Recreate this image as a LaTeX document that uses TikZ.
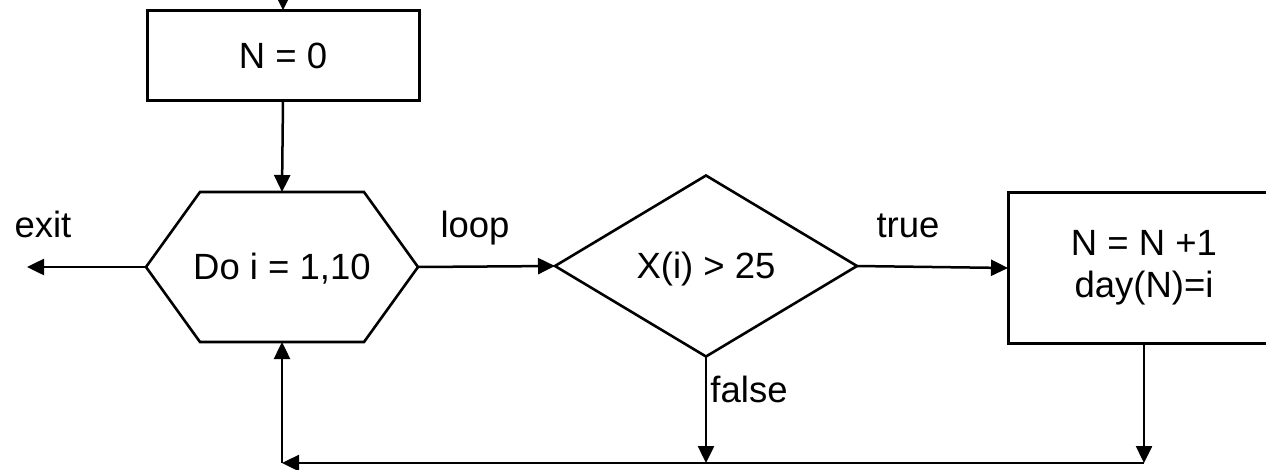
\documentclass[tikz,border=0pt]{standalone}
\usepackage{fontspec}
\setmainfont{Liberation Sans}
\usetikzlibrary{arrows.meta,shapes.geometric}
\begin{document}
\begin{tikzpicture}[x=1pt,y=-1pt,
  >={Triangle[length=17pt,width=16pt]},
  every node/.style={font=\fontsize{36.5}{42}\selectfont, outer sep=0pt, inner sep=0pt},
  procbox/.style={draw, line width=3pt, minimum width=272pt, minimum height=90pt, text height=25.8pt, text depth=0pt},
  hexbox/.style={minimum width=272pt, minimum height=150pt, text height=25.8pt, text depth=0pt},
  decbox/.style={draw, diamond, line width=2.6pt, minimum width=302pt, minimum height=181pt, text height=25.8pt, text depth=0pt},
  conn/.style={line width=2.5pt, ->},
  lbl/.style={anchor=base}]
\useasboundingbox (0,0) rectangle (1266,469);
\clip (0,0) rectangle (1266,469);
% nodes
\coordinate (start) at (283,-20);
\node[procbox] (n0) at (283,55.3) {N = 0};
\node[hexbox] (hex) at (282,267) {Do i = 1,10};
\draw[line width=2.6pt] (hex.west) -- ([xshift=54pt]hex.north west) -- ([xshift=-54pt]hex.north east)
  -- (hex.east) -- ([xshift=-54pt]hex.south east) -- ([xshift=54pt]hex.south west) -- cycle;
\node[decbox] (dia) at (706,266) {X(i) > 25};
\node[procbox, minimum height=151pt, text height=, text depth=, align=center] (box2) at (1144,268) {N = N +1\\day(N)=i};
\coordinate (exitpt) at (27,267);
\coordinate (fj) at (706,463);
\coordinate (bj) at (1144,463);
\coordinate (lc) at (282,463);
% labels
\node[lbl] (lexit) at (43,237) {exit};
\node[lbl] (lloop) at (475,237) {loop};
\node[lbl] (ltrue) at (908,237) {true};
\node[lbl] (lfalse) at (749,402.7) {false};
% connectors
\draw[conn] (start) -- (n0.north);
\draw[conn] (n0.south) -- (hex.north);
\draw[conn] (hex.west) -- (exitpt);
\draw[conn] (hex.east) -- (dia.west);
\draw[conn] (dia.east) -- (box2.west);
\draw[conn] (dia.south) -- (fj);
\draw[conn] (box2.south) -- (bj);
\draw[conn] (bj) -- (lc);
\draw[conn] (lc) -- (hex.south);
\end{tikzpicture}
\end{document}
